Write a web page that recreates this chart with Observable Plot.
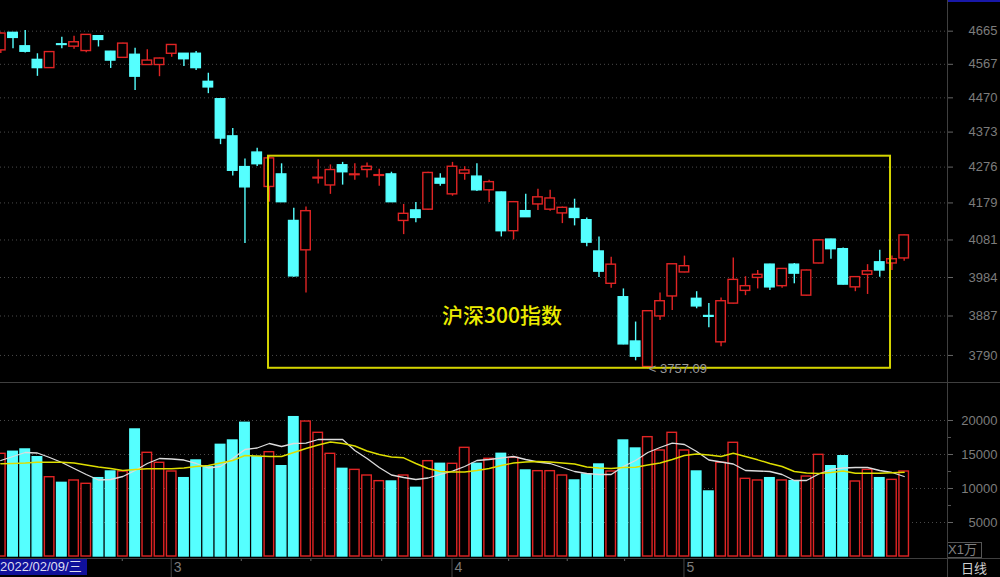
<!DOCTYPE html>
<html><head><meta charset="utf-8">
<script src="https://cdn.jsdelivr.net/npm/d3@7"></script>
<script src="https://cdn.jsdelivr.net/npm/@observablehq/plot@0.6"></script>
<style>
html,body{margin:0;padding:0;background:#000;}
#wrap{position:relative;width:1000px;height:577px;background:#000;overflow:hidden;font-family:"Liberation Sans","Noto Sans CJK SC",sans-serif;}
.abs{position:absolute;}
</style></head><body>
<div id="wrap">
 <div id="price" class="abs" style="left:0;top:0"></div>
 <div id="vol" class="abs" style="left:0;top:383px"></div>
 <div id="strip" class="abs" style="left:0;top:558px"></div>
 <div class="abs" style="left:0;top:382px;width:1000px;height:1px;background:#3f3f3f"></div>
 <div class="abs" style="left:0;top:558px;width:1000px;height:1px;background:#3f3f3f"></div>
 <div class="abs" style="left:947px;top:0;width:1px;height:577px;background:#3f3f3f"></div>
 <div class="abs" style="left:948px;top:0;width:52px;height:2px;background:#1818a8"></div>
 <div class="abs" style="left:0;top:559px;width:87px;height:16px;background:#10109a;color:#dcdcf0;font-size:13px;line-height:16px;white-space:nowrap;overflow:hidden;">2022/02/09/三</div>
 <div class="abs" style="left:948px;top:542px;width:33px;height:14px;border:1px solid #555;border-left:none;color:#808080;font-size:13px;line-height:14px;white-space:nowrap;">X1万</div>
 <div class="abs" style="left:961px;top:561px;color:#cfcfcf;font-size:13px;line-height:15px;white-space:nowrap;">日线</div>
</div>
<script>
// ---- data ----
const opens  = [4608,4660,4620,4580,4556,4626,4619,4606,4650,4604,4586,4595,4565,4565,4598,4598,4598,4516,4466,4361,4276,4316,4222,4256,4131,4054,4245,4226,4281,4254,4268,4252,4256,4131,4159,4161,4244,4202,4258,4250,4213,4207,4104,4157,4175,4161,4151,4163,4133,4051,3968,3934,3824,3762,3886,3936,3997,3930,3887,3822,3918,3950,3983,4017,3962,4017,3938,4020,4082,4057,3959,3991,4023,4020,4033];
const highs  = [4660,4661,4667,4598,4604,4647,4650,4655,4651,4605,4629,4614,4610,4585,4625,4599,4605,4541,4467,4383,4298,4328,4307,4285,4165,4168,4296,4282,4289,4285,4287,4270,4262,4175,4180,4262,4258,4289,4277,4285,4240,4208,4183,4202,4216,4213,4168,4189,4139,4089,4036,3955,3872,3899,3945,4019,4039,3948,3918,3932,4034,3986,4002,4018,4007,4020,4003,4081,4083,4060,3986,4017,4054,4039,4094];
const lows   = [4599,4613,4600,4532,4555,4613,4611,4601,4618,4555,4585,4491,4564,4531,4588,4561,4549,4482,4338,4252,4072,4278,4181,4180,3985,3945,4230,4202,4227,4240,4246,4224,4180,4095,4126,4159,4224,4197,4240,4210,4180,4089,4081,4140,4159,4157,4124,4118,4063,3984,3957,3816,3777,3757.09,3876,3901,3996,3905,3858,3811,3917,3938,3955,3951,3957,3968,3937,4019,4031,3965,3948,3941,3985,4002,4026];
const closes = [4658,4645,4604,4556,4603,4624,4632,4654,4639,4578,4628,4531,4578,4584,4624,4582,4556,4500,4355,4266,4221,4284,4300,4181,3987,4157,4247,4268,4262,4256,4277,4254,4181,4150,4139,4260,4231,4277,4267,4213,4235,4104,4181,4141,4194,4191,4166,4139,4074,3999,4017,3817,3787,3899,3924,4018,4013,3911,3885,3924,3978,3962,3991,3959,4006,3994,4002,4080,4057,3966,3985,4000,4002,4031,4093];
const volumes = [15100,15400,15740,14600,11660,10830,11180,10690,11520,12500,12500,18680,15250,13780,12500,11520,14120,13140,16420,17060,19660,14600,15340,13280,20490,19850,18190,15100,12890,12740,11910,11080,11030,11910,10100,14020,13630,13630,15980,13630,14370,15100,14510,12650,12550,12550,11910,11180,12060,13530,12500,17060,15880,17550,15590,18190,15590,12500,9560,13780,16720,11420,11180,11520,11180,11080,11760,14950,13280,14750,11030,12740,11520,11270,12500];
const volMA5  = [14118,14706,15294,15221,14559,13824,12941,12059,11250,11324,11765,12647,13677,14412,14338,14191,13677,13015,13235,14412,15735,15956,16618,16176,16618,16662,17206,17206,17206,15588,14412,13088,11985,11618,11324,11544,12059,12544,13235,14118,14265,14485,14706,14265,13897,13677,13088,12500,12206,12059,12059,13235,14118,15294,16029,16662,16471,15441,14191,13897,13603,12647,12574,12500,12059,11176,11176,12132,12794,13015,13088,13088,12647,12353,11765];
const volMA10 = [13632,13676,13750,13868,13868,13868,13750,13456,13162,12941,12647,12794,12897,12897,12897,13015,13235,13382,13750,14118,14853,14780,14706,14706,15294,15882,16397,16838,16618,16250,15515,15000,14632,14515,13676,12941,12500,12426,12426,12647,12941,13382,13750,13897,13971,13897,13750,13603,13162,13015,12941,13088,13132,13456,13750,14265,14853,15074,14926,14706,15176,14706,14221,13676,13235,12500,12279,12206,12353,12574,12250,12250,12250,12309,12397];
const priceTicks = [4665,4567,4470,4373,4276,4179,4081,3984,3887,3790];
const volTicks = [20000,15000,10000,5000];
const volMinorTicks = [17500,12500,7500];
const monthLabels = ["3","4","5"];
const monthStarts = [14,37,56];
const weekTicks = [9.95,19.7,25.4,31.2,41.6,46.4,51.1];
const highlight = {startIdx:21.93, endIdx:72.88, low:3759, high:4306};
const titleText = {text:"沪深300指数", idx:41.06, price:3886};

// ---- styling ----
const CYAN = "#55ffff", RED = "#e02424";
const HW = 0.39;
const xDomain = [-0.0246, 77.548];
const priceDomain = [3724.9, 4757.6];
const volDomain = [0, 25441];
const AXIS = "#7c7c7c";
const GRID = {stroke:"#4a4a4a", strokeOpacity:1, strokeDasharray:"1,3"};
const baseStyle = {background:"transparent", color:AXIS, fontFamily:"Liberation Sans, sans-serif", fontSize:"13px", overflow:"visible"};

const rows = opens.map((o,i)=>({i, o, h:highs[i], l:lows[i], c:closes[i], v:volumes[i], up: closes[i] >= o}));
const lowIdx = lows.indexOf(Math.min(...lows));

const price = Plot.plot({
  width:1000, height:382, marginLeft:0, marginRight:53, marginTop:0, marginBottom:0,
  style: baseStyle,
  x:{type:"linear", domain:xDomain, axis:null},
  y:{type:"log", domain:priceDomain},
  marks:[
    Plot.gridY(priceTicks, GRID),
    Plot.axisY(priceTicks,{anchor:"right", label:null, tickSize:5, tickPadding:45, textAnchor:"end", tickFormat:d=>String(d), stroke:"#666", fill:AXIS}),
    Plot.ruleX(rows,{x:"i", y1:"l", y2:"h", stroke:d=>d.up?RED:CYAN, strokeWidth:1.4}),
    Plot.rect(rows,{x1:d=>d.i-HW, x2:d=>d.i+HW, y1:"o", y2:"c", fill:d=>d.up?"#000000":CYAN, stroke:d=>d.up?RED:CYAN, strokeWidth:1.4}),
    Plot.rect([highlight],{x1:"startIdx", x2:"endIdx", y1:"low", y2:"high", fill:"none", stroke:"#d4d400", strokeWidth:2}),
    Plot.text([titleText],{x:"idx", y:"price", text:"text", fill:"#ecec00", fontSize:21, fontFamily:"Noto Sans CJK SC, sans-serif", fontWeight:500}),
    Plot.text([lowIdx],{x:d=>d, y:d=>lows[d], text:d=>"< "+lows[d].toFixed(2), textAnchor:"start", dx:1, fill:"#9a9a9a", fontSize:13})
  ]
});
document.getElementById("price").appendChild(price);

const vol = Plot.plot({
  width:1000, height:175, marginLeft:0, marginRight:53, marginTop:0, marginBottom:2,
  style: baseStyle,
  x:{type:"linear", domain:xDomain, axis:null},
  y:{domain:volDomain},
  marks:[
    Plot.gridY(volTicks, GRID),
    Plot.axisY(volTicks,{anchor:"right", label:null, tickSize:5, tickPadding:45, textAnchor:"end", tickFormat:d=>String(d), stroke:"#666", fill:AXIS}),
    Plot.axisY(volMinorTicks,{anchor:"right", label:null, tickSize:3, tickFormat:()=>"", stroke:"#555"}),
    Plot.rect(rows,{x1:d=>d.i-HW, x2:d=>d.i+HW, y1:0, y2:"v", fill:d=>d.up?"#000000":CYAN, stroke:d=>d.up?RED:CYAN, strokeWidth:1.4}),
    Plot.line(volMA5.map((v,i)=>({i,v})),{x:"i", y:"v", stroke:"#dcdcdc", strokeWidth:1.3}),
    Plot.line(volMA10.map((v,i)=>({i,v})),{x:"i", y:"v", stroke:"#dede00", strokeWidth:1.4})
  ]
});
document.getElementById("vol").appendChild(vol);

const strip = Plot.plot({
  width:1000, height:19, marginLeft:0, marginRight:53, marginTop:0, marginBottom:0,
  style: baseStyle,
  x:{type:"linear", domain:xDomain, axis:null},
  y:{domain:[0,19], range:[0,19], axis:null},
  marks:[
    Plot.ruleX(monthStarts,{x:d=>d-0.04, y1:0, y2:19, stroke:"#444"}),
    Plot.ruleX(weekTicks,{x:d=>d, y1:0, y2:3, stroke:"#666"}),
    Plot.text(monthStarts,{x:d=>d, y:9.5, text:(d,i)=>monthLabels[i], textAnchor:"start", dx:2, fill:AXIS, fontSize:14})
  ]
});
document.getElementById("strip").appendChild(strip);
</script>
</body></html>
